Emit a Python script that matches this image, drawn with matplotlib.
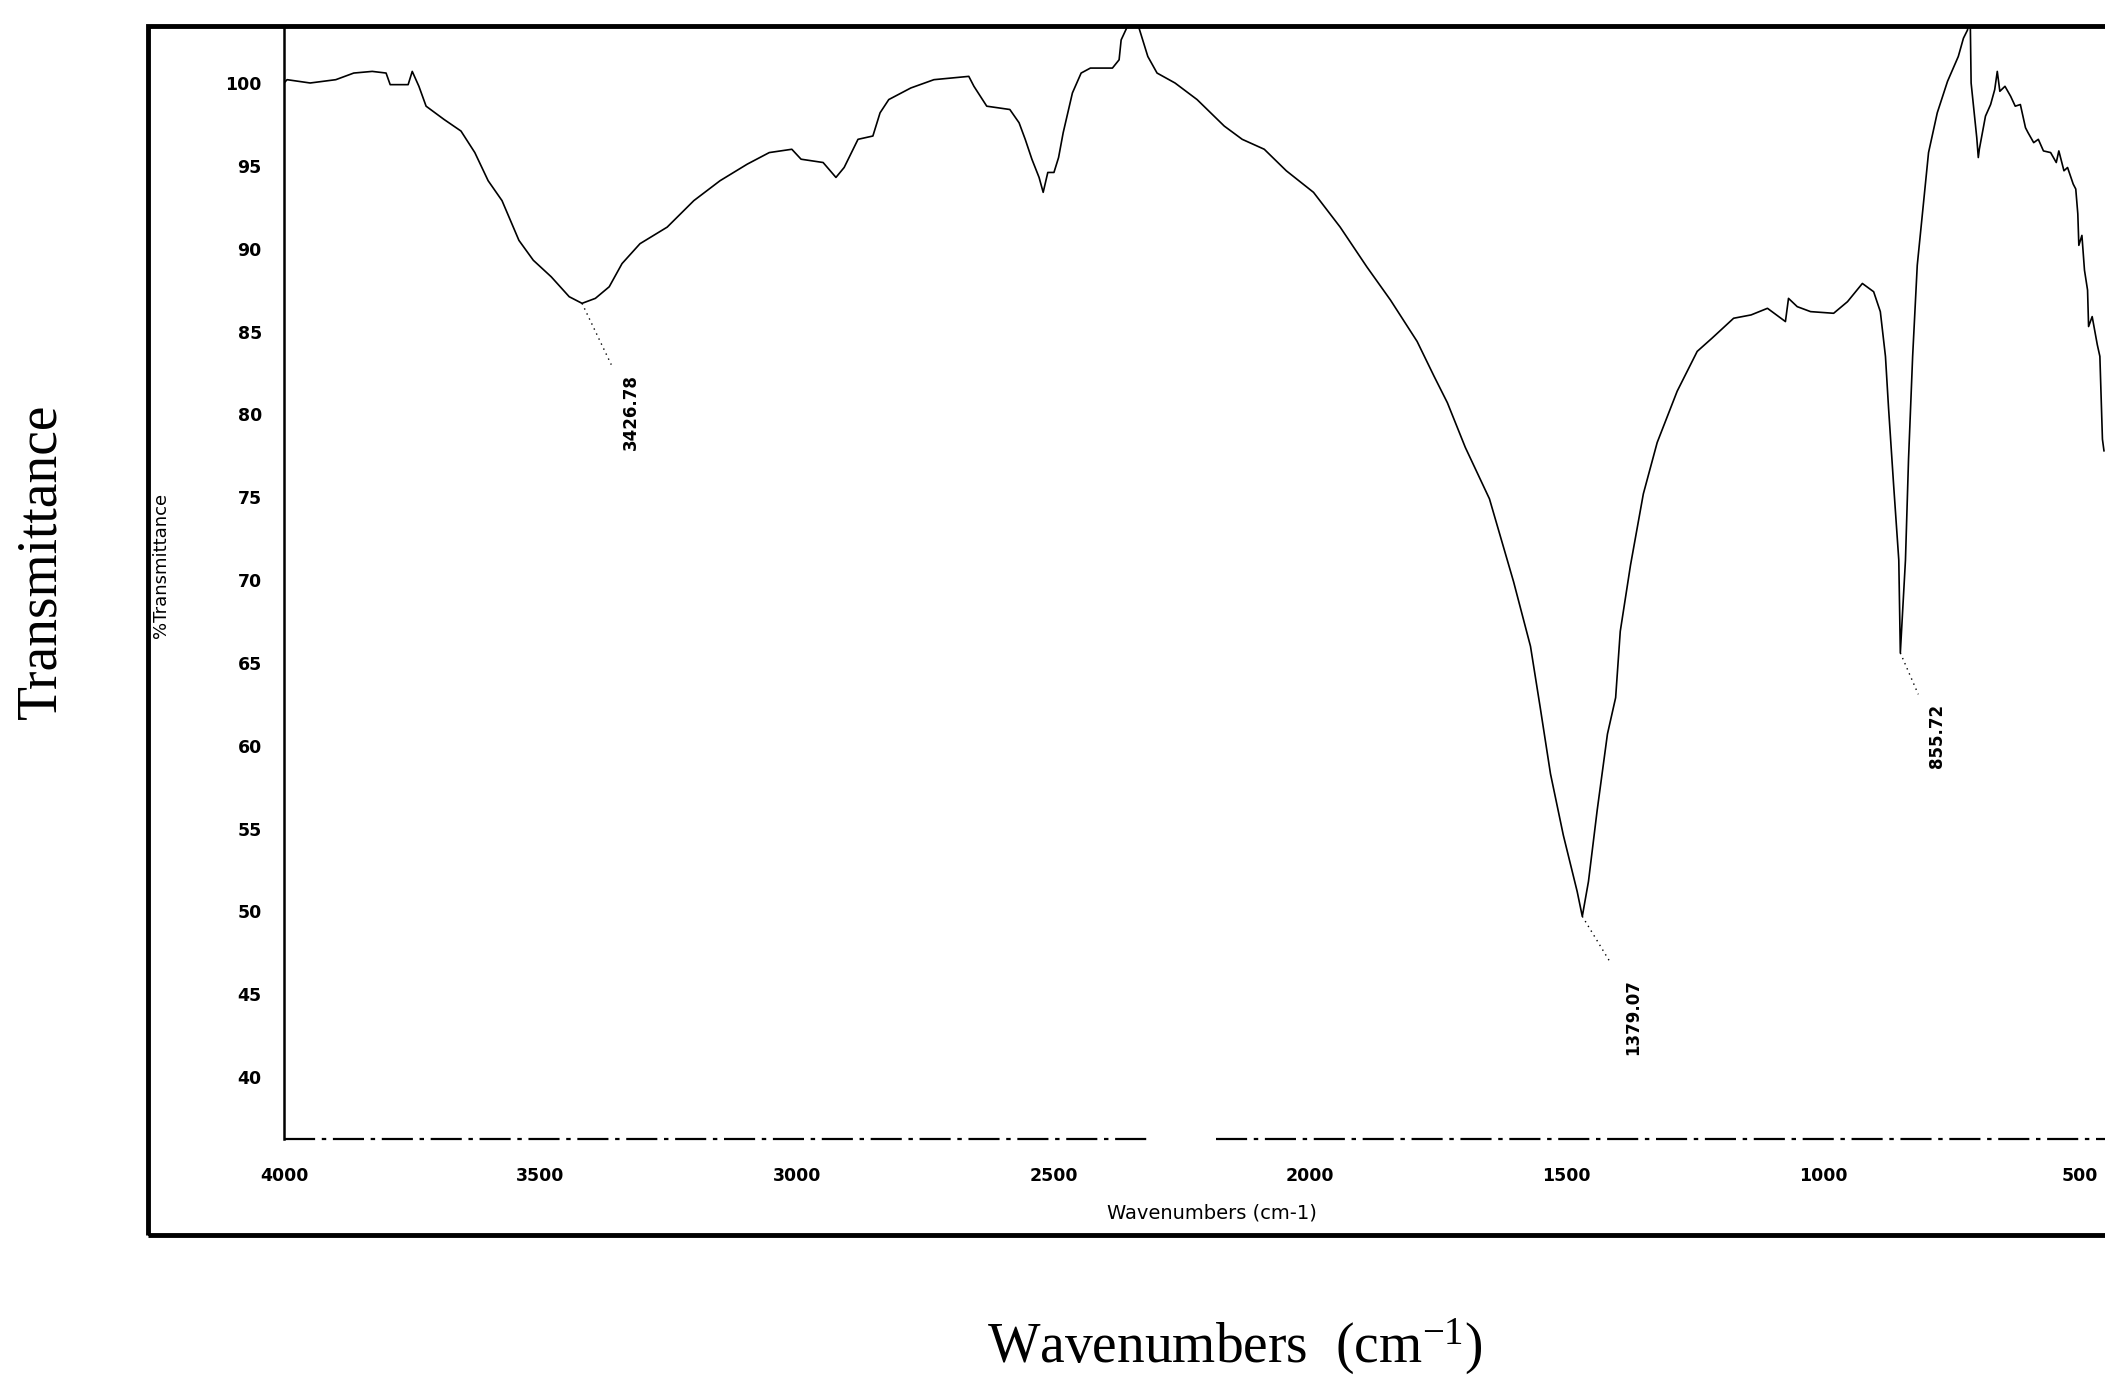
import matplotlib
matplotlib.use('Agg')
import matplotlib.pyplot as plt
from matplotlib.patches import Rectangle

# IR spectrum (wavenumber in cm-1, %T)
wavenumber = [4000, 3994, 3949, 3899, 3864, 3828, 3801, 3793, 3758, 3750, 3737, 3723,
              3688, 3655, 3628, 3602, 3575, 3542, 3514, 3479, 3444, 3419, 3393, 3366,
              3341, 3306, 3253, 3201, 3150, 3097, 3054, 3010, 2992, 2949, 2924, 2908,
              2881, 2852, 2838, 2821, 2778, 2733, 2665, 2655, 2630, 2585, 2567, 2555,
              2542, 2528, 2520, 2511, 2499, 2490, 2481, 2472, 2463, 2446, 2428, 2385,
              2372, 2368, 2347, 2333, 2316, 2298, 2263, 2220, 2167, 2132, 2089, 2046,
              1993, 1941, 1889, 1843, 1791, 1758, 1732, 1697, 1650, 1603, 1570, 1551,
              1531, 1506, 1479, 1469, 1457, 1440, 1420, 1404, 1395, 1375, 1350, 1323,
              1284, 1245, 1216, 1174, 1140, 1108, 1073, 1067, 1050, 1024, 979, 952,
              923, 901, 888, 878, 872, 862, 852, 849, 839, 833, 825, 816,
              806, 794, 777, 757, 736, 726, 718, 713, 711, 700, 697, 695,
              683, 673, 665, 660, 655, 645, 634, 625, 615, 605, 600, 589,
              580, 570, 556, 545, 540, 530, 523, 512, 507, 503, 501, 495,
              490, 484, 482, 475, 468, 465, 460, 457, 455, 452]
transmittance = [100.0, 100.2, 100.0, 100.2, 100.6, 100.7, 100.6, 99.9, 99.9, 100.7, 99.8, 98.6,
                 97.8, 97.1, 95.8, 94.1, 92.9, 90.5, 89.3, 88.3, 87.1, 86.7, 87.0, 87.7,
                 89.1, 90.3, 91.3, 92.9, 94.1, 95.1, 95.8, 96.0, 95.4, 95.2, 94.3, 94.9,
                 96.6, 96.8, 98.2, 99.0, 99.7, 100.2, 100.4, 99.8, 98.6, 98.4, 97.6, 96.6,
                 95.4, 94.3, 93.4, 94.6, 94.6, 95.5, 97.0, 98.2, 99.4, 100.6, 100.9, 100.9,
                 101.4, 102.6, 104.0, 103.3, 101.6, 100.6, 100.0, 99.0, 97.4, 96.6, 96.0, 94.7,
                 93.4, 91.3, 88.9, 86.9, 84.4, 82.3, 80.7, 78.0, 74.9, 69.9, 66.0, 62.3,
                 58.3, 54.6, 51.2, 49.7, 51.8, 56.1, 60.7, 62.9, 66.9, 70.9, 75.2, 78.3,
                 81.4, 83.8, 84.6, 85.8, 86.0, 86.4, 85.6, 87.0, 86.5, 86.2, 86.1, 86.8,
                 87.9, 87.4, 86.2, 83.5, 80.4, 75.7, 71.2, 65.6, 71.2, 77.3, 83.5, 89.0,
                 92.1, 95.8, 98.2, 100.1, 101.6, 102.7, 103.2, 104.5, 100.0, 96.7, 95.5, 96.0,
                 98.0, 98.7, 99.6, 100.7, 99.5, 99.8, 99.2, 98.6, 98.7, 97.3, 97.0, 96.4,
                 96.6, 95.9, 95.8, 95.2, 95.9, 94.7, 94.9, 93.9, 93.6, 92.1, 90.2, 90.8,
                 88.7, 87.5, 85.3, 85.9, 84.7, 84.2, 83.5, 80.5, 78.5, 77.8]

x_ticks = [4000, 3500, 3000, 2500, 2000, 1500, 1000, 500]
y_ticks = [40, 45, 50, 55, 60, 65, 70, 75, 80, 85, 90, 95, 100]

# peak annotations: peak point, end of leader, label anchor
peak_text = ['3426.78', '1379.07', '855.72']
peak_wn = [3419, 1469, 849]
peak_t = [86.7, 49.7, 65.6]
leader_wn = [3362, 1414, 814]
leader_t = [83.0, 46.9, 63.1]
label_wn = [3323, 1370, 777]
label_t = [82.4, 45.9, 62.5]

plt.rcParams['mathtext.fontset'] = 'custom'
plt.rcParams['mathtext.rm'] = 'Liberation Serif'
plt.rcParams['mathtext.it'] = 'Liberation Serif:italic'

W, H = 2105, 1388
fig = plt.figure(figsize=(W / 100, H / 100), dpi=100)

# inner plot area (cut off at the right edge like the scan)
ax_left, ax_top, ax_bottom = 284, 26, 1139
y_min, y_max = 36.26, 103.44
ax = fig.add_axes([ax_left / W, 1 - ax_bottom / H, 1 - ax_left / W, (ax_bottom - ax_top) / H])
ax.plot(wavenumber, transmittance, color='black', lw=1.2)

for i in range(len(peak_text)):
    ax.plot([peak_wn[i], leader_wn[i]], [peak_t[i], leader_t[i]],
            color='black', lw=1.0, linestyle=(0, (1, 3)))
    ax.text(label_wn[i], label_t[i], peak_text[i], rotation=90, ha='center', va='top',
            fontsize=12, fontweight='bold', family='DejaVu Sans')

ax.set_xlim(4000, 450)
ax.set_ylim(y_min, y_max)
ax.set_xticks(x_ticks)
ax.set_yticks(y_ticks)
ax.tick_params(length=0, labelsize=12.5)
ax.tick_params(axis='y', pad=16)
ax.tick_params(axis='x', pad=20)
for lab in ax.get_xticklabels() + ax.get_yticklabels():
    lab.set_fontweight('bold')

for side in ['top', 'right', 'bottom']:
    ax.spines[side].set_visible(False)
ax.spines['left'].set_linewidth(1.8)

# dashed x axis line with the break near 2250
ax.hlines(y_min, 4000, 2307, color='black', lw=1.6, linestyle=(0, (14, 3, 2, 3)), clip_on=False)
ax.hlines(y_min, 2184, 450, color='black', lw=1.6, linestyle=(0, (14, 3, 2, 3)), clip_on=False)

# outer frame of the original figure
fig.add_artist(Rectangle((148 / W, 1 - 1235 / H), 1.2, (1235 - 26) / H,
                         transform=fig.transFigure, fill=False, lw=3.5, color='black'))

fig.text(1212 / W, 1 - 1213 / H, 'Wavenumbers (cm-1)', ha='center', va='center', fontsize=14)
fig.text(161 / W, 1 - 565 / H, '%Transmittance', rotation=90, ha='center', va='center', fontsize=13)

fig.text(41 / W, 1 - 561 / H, 'Transmittance', rotation=90, ha='center', va='center',
         fontsize=40, family='Liberation Serif')
fig.text(1235 / W, 1 - 1347 / H, 'Wavenumbers  (cm$^{-1}$)', ha='center', va='center',
         fontsize=40, family='Liberation Serif')

plt.savefig('out.png', dpi=100)
